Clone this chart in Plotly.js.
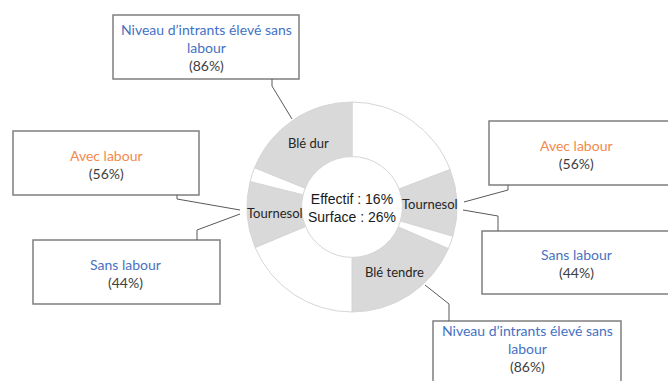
<!DOCTYPE html>
<html>
<head>
<meta charset="utf-8">
<script src="https://cdn.plot.ly/plotly-3.0.1.min.js"></script>
<style>
  html, body { margin: 0; padding: 0; background: #fff; }
  #plot { width: 668px; height: 381px; }
</style>
</head>
<body>
<div id="plot"></div>
<script>
// slices, clockwise from 12 o'clock
let sliceLabels = ['a', 'Tournesol', 'b', 'Blé tendre', 'c', 'Tournesol ', 'd', 'Blé dur']
let sliceText = ['', 'Tournesol', '', 'Blé tendre', '', 'Tournesol', '', 'Blé dur']
let sliceValues = [19.2, 10.3, 2, 18.5, 18.7, 10.2, 2.2, 18.9]
let sliceFilled = [false, true, false, true, false, true, false, true]

let centerLines = ['Effectif : 16%', 'Surface : 26%']

// callout boxes
let boxLabels = ['Niveau d’intrants élevé sans<br>labour', 'Avec labour', 'Sans labour',
                 'Avec labour', 'Sans labour', 'Niveau d’intrants élevé sans<br>labour']
let boxShares = ['(86%)', '(56%)', '(44%)', '(56%)', '(44%)', '(86%)']
let boxColors = ['#4472c4', '#f4894b', '#4a72c0', '#f4894b', '#4a72c0', '#4472c4']

// pixel helpers (margins are zero, so paper == page)
const W = 668, H = 381
const px = x => x / W
const py = y => 1 - y / H

// box geometry [x0, y0, x1, y1] and leader lines in page pixels
let boxRects = [
  [113, 15, 299, 79],
  [13, 131, 199, 195],
  [33, 240, 220, 304],
  [489, 121, 680, 185],
  [482, 231, 680, 294],
  [433, 321, 621, 390]
]
let leaders = [
  [[272, 79], [272, 86], [292, 119]],
  [[177, 195], [177, 199], [240, 210]],
  [[240, 214], [197, 230], [197, 240]],
  [[508, 185], [508, 190], [464, 202]],
  [[463, 210], [498, 216], [498, 231]],
  [[425, 285], [449, 304], [449, 321]]
]
let boxCenters = [[206, 47], [106, 164], [126, 273], [576, 154], [576, 263], [527, 348]]

let cx = 352, cy = 207, R = 105, hole = 0.48

let trace = {
  type: 'pie',
  labels: sliceLabels,
  values: sliceValues,
  textinfo: 'none',
  hole: hole,
  sort: false,
  direction: 'clockwise',
  rotation: 0,
  marker: {
    colors: sliceFilled.map(f => f ? '#d9d9d9' : '#ffffff'),
    line: { color: '#d6d6d6', width: 1 }
  },
  domain: { x: [px(cx - R), px(cx + R)], y: [py(cy + R), py(cy - R)] },
  showlegend: false,
  hoverinfo: 'none'
}

let shapes = []
let annotations = []

boxRects.forEach((b, i) => {
  shapes.push({
    type: 'rect', xref: 'paper', yref: 'paper',
    x0: px(b[0]), x1: px(b[2]), y0: py(b[3]), y1: py(b[1]),
    line: { color: '#7f7f7f', width: 1.5 }, fillcolor: '#ffffff', layer: 'below'
  })
  let pts = leaders[i]
  let path = 'M ' + pts.map(p => px(p[0]) + ',' + py(p[1])).join(' L ')
  shapes.push({
    type: 'path', xref: 'paper', yref: 'paper', path: path,
    line: { color: '#595959', width: 1 }
  })
  annotations.push({
    xref: 'paper', yref: 'paper',
    x: px(boxCenters[i][0]), y: py(boxCenters[i][1]),
    xanchor: 'center', yanchor: 'middle',
    showarrow: false,
    text: '<span style="color:' + boxColors[i] + '">' + boxLabels[i] + '</span><br>' + boxShares[i],
    font: { family: 'Lato, sans-serif', size: 14, color: '#404040' }
  })
})

// slice labels at the middle of each ring sector
let total = sliceValues.reduce((a, b) => a + b, 0)
let acc = 0
let rMid = R * (1 + hole) / 2
sliceValues.forEach((v, i) => {
  let mid = (acc + v / 2) / total * 2 * Math.PI
  acc += v
  if (!sliceText[i]) return
  annotations.push({
    xref: 'paper', yref: 'paper',
    x: px(cx + rMid * Math.sin(mid)), y: py(cy - rMid * Math.cos(mid)),
    xanchor: 'center', yanchor: 'middle', showarrow: false,
    text: sliceText[i],
    font: { family: 'Lato, sans-serif', size: 13, color: '#262626' }
  })
})

annotations.push({
  xref: 'paper', yref: 'paper', x: px(cx), y: py(cy + 1),
  xanchor: 'center', yanchor: 'middle', showarrow: false,
  text: centerLines.join('<br>'),
  font: { family: 'Liberation Sans, Arial, sans-serif', size: 14, color: '#1a1a1a' }
})

let layout = {
  width: W,
  height: H,
  margin: { l: 0, r: 0, t: 0, b: 0 },
  paper_bgcolor: '#ffffff',
  shapes: shapes,
  annotations: annotations
}

Plotly.newPlot('plot', [trace], layout, { displayModeBar: false, staticPlot: true })
</script>
</body>
</html>
